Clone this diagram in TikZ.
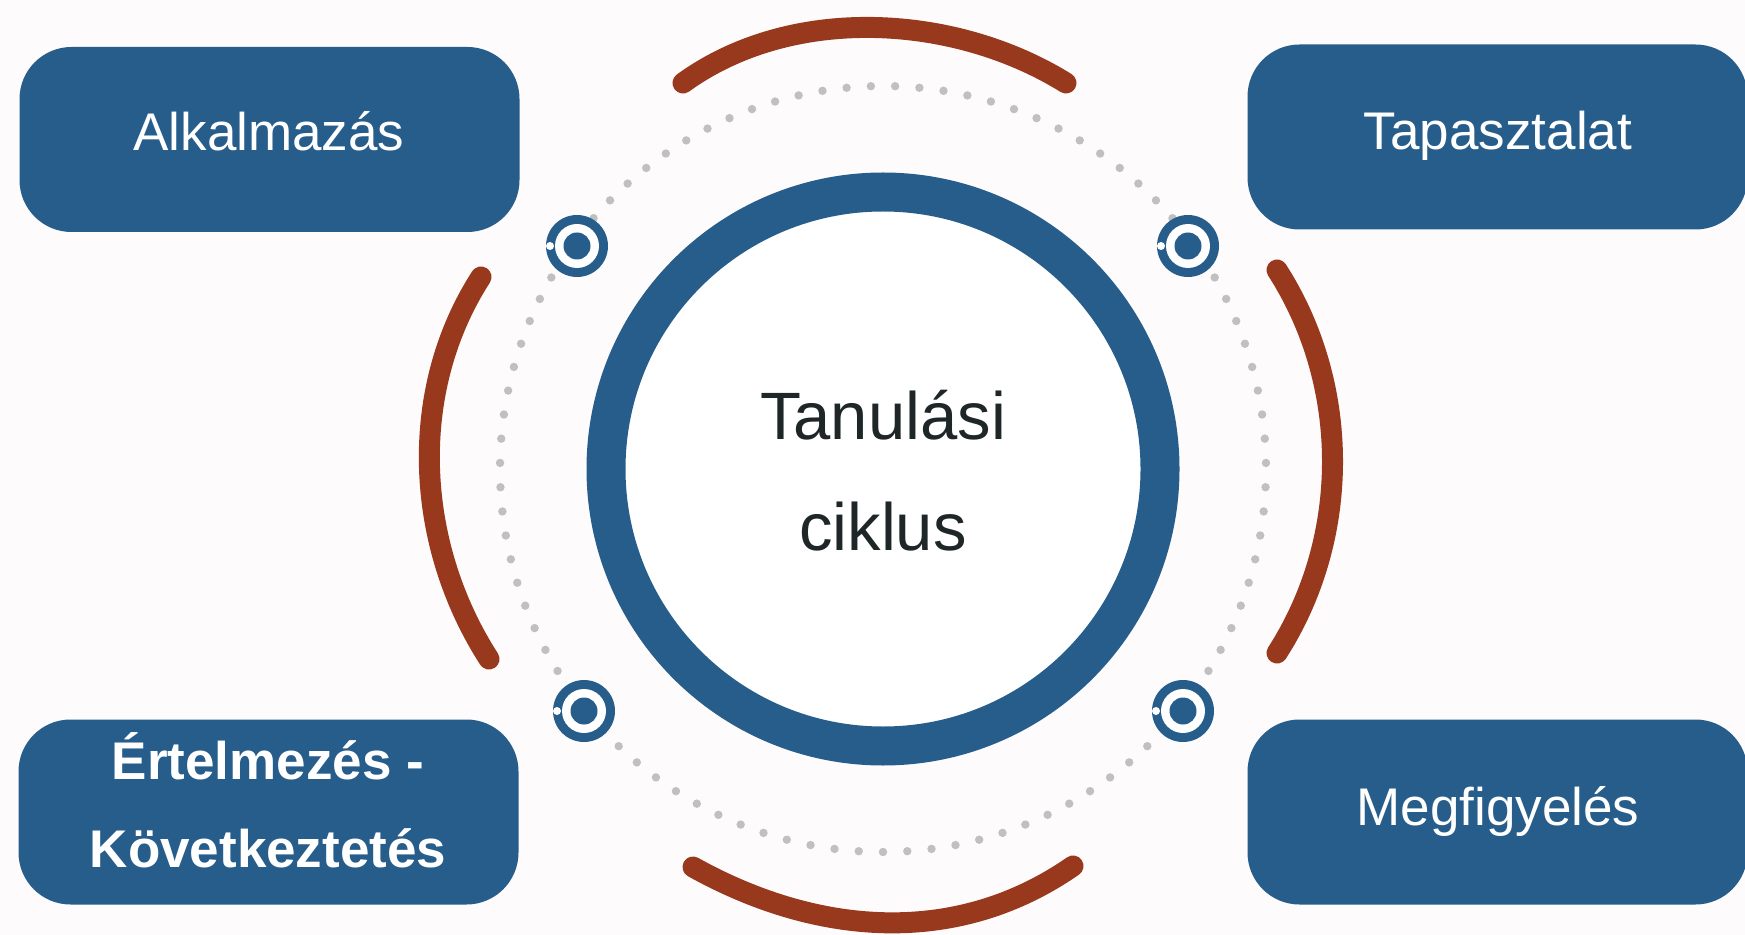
\documentclass[tikz,border=0pt]{standalone}
\usepackage{fontspec}
\setmainfont{Liberation Sans}
\definecolor{cycleblue}{HTML}{275D8B}
\definecolor{arcred}{HTML}{98391D}
\definecolor{dotgrey}{HTML}{C0C0C0}
\definecolor{paper}{HTML}{FDFBFC}
\definecolor{inkdark}{HTML}{1E2628}

\begin{document}
\begin{tikzpicture}[x=0.5pt, y=-0.5pt,
    box/.style = {fill=cycleblue, rounded corners=26pt, minimum width=250pt, minimum height=92.5pt, inner sep=0pt},
    boxtext/.style = {text=white, anchor=base, inner sep=0pt, align=center, font=\fontsize{26.5}{44}\selectfont},
    arcline/.style = {draw=arcred, line width=10.5pt, line cap=round}]
    \fill[paper] (0,0) rectangle (1745,935);
    \useasboundingbox (0,0) rectangle (1745,935);

    % dotted orbit
    \foreach \i in {0,...,98}
        \fill[dotgrey] (883,469) ++(90+\i*3.63636:383) circle (4.2);

    % red arcs
    \draw[arcline] (683,83) .. controls (792,4) and (955,14) .. (1066,83);
    \draw[arcline] (1277,270) .. controls (1351,385) and (1351,538) .. (1277,653);
    \draw[arcline] (1073,866) .. controls (955,948) and (815,935) .. (693,867);
    \draw[arcline] (489,659) .. controls (415,544) and (407,392) .. (481,277);

    % centre ring
    \node[circle, draw=cycleblue, line width=19.5pt, fill=white, minimum size=277pt, inner sep=0pt] (ring) at (883,469) {};
    \node[text=inkdark, anchor=base, inner sep=0pt, align=center, font=\fontsize{33.5}{55.5}\selectfont] (title) at (883,550) {Tanulási\\ciklus};

    % targets on the orbit
    \foreach \x/\y in {577/246, 1188/246, 584/711, 1183/711} {
        \fill[cycleblue] (\x,\y) circle (31);
        \fill[white] (\x,\y) circle (22);
        \fill[cycleblue] (\x,\y) circle (13.5);
        \fill[white] (\x-27,\y) circle (4);
    }

    % stage boxes
    \node[box] (apply) at (269.5,139.5) {};
    \node[box] (exper) at (1497.5,137) {};
    \node[box] (observ) at (1497.5,812) {};
    \node[box] (interp) at (268.5,812) {};

    \node[boxtext] (applyt) at (269,151) {Alkalmazás};
    \node[boxtext] (expert) at (1498,150) {Tapasztalat};
    \node[boxtext] (observt) at (1498,825) {Megfigyelés};
    \node[boxtext, font=\bfseries\fontsize{26.5}{44}\selectfont] (interpt) at (268,867) {Értelmezés -\\Következtetés};
\end{tikzpicture}
\end{document}
